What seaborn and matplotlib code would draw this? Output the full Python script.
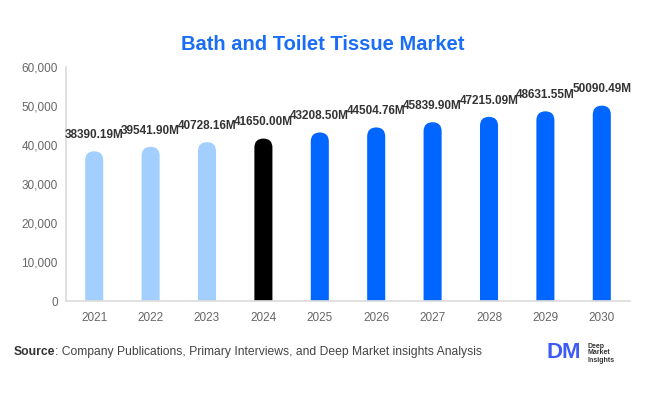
import matplotlib
matplotlib.use("Agg")
import matplotlib.pyplot as plt
import seaborn as sns
import pandas as pd
from matplotlib.patches import FancyBboxPatch
from matplotlib.ticker import FuncFormatter

years = ["2021", "2022", "2023", "2024", "2025", "2026", "2027", "2028", "2029", "2030"]
values = [38390.19, 39541.90, 40728.16, 41650.00, 43208.50, 44504.76, 45839.90, 47215.09, 48631.55, 50090.49]
labels = ["38390.19M", "39541.90M", "40728.16M", "41650.00M", "43208.50M",
          "44504.76M", "45839.90M", "47215.09M", "48631.55M", "50090.49M"]
colors = ["#A3CFFF", "#A3CFFF", "#A3CFFF", "#000000", "#0066FF",
          "#0066FF", "#0066FF", "#0066FF", "#0066FF", "#0066FF"]

sns.set_theme(style="white")
plt.rcParams["font.family"] = ["Liberation Sans", "DejaVu Sans"]

df = pd.DataFrame({"year": years, "value": values})

fig = plt.figure(figsize=(6.46, 3.94), dpi=100)
ax = fig.add_axes([66 / 646, 1 - 301 / 394, 564 / 646, 234 / 394])
sns.barplot(data=df, x="year", y="value", hue="year", palette=colors, legend=False,
            width=0.32, ax=ax, saturation=1)
ax.set_xlim(-0.5, 9.5)
ax.set_ylim(0, 60000)
ax.set_yticks(range(0, 60001, 10000))
ax.yaxis.set_major_formatter(FuncFormatter(lambda v, p: f"{int(v):,}"))

fig.canvas.draw()
px_per_x = ax.transData.transform((1, 0))[0] - ax.transData.transform((0, 0))[0]
px_per_y = (ax.transData.transform((0, 1000))[1] - ax.transData.transform((0, 0))[1]) / 1000.0

bars = list(ax.patches)
for p, c in zip(bars, colors):
    x, w, h = p.get_x(), p.get_width(), p.get_height()
    p.remove()
    r = w / 2
    ry_units = r * px_per_x / px_per_y
    aspect = ry_units / r
    fb = FancyBboxPatch((x, -ry_units * 1.5), w, h + ry_units * 1.5,
                        boxstyle=f"round,pad=0,rounding_size={r}",
                        mutation_aspect=aspect, facecolor=c, edgecolor="none")
    ax.add_patch(fb)

for i, (v, lab) in enumerate(zip(values, labels)):
    ax.annotate(lab, (i, v), xytext=(0, 9.5), textcoords="offset points",
                ha="center", va="baseline", fontsize=8.5, fontweight="bold", color="#333333")

ax.set_xlabel("")
ax.set_ylabel("")
for s in ["top", "right"]:
    ax.spines[s].set_visible(False)
ax.spines["left"].set_color("#dddddd")
ax.spines["bottom"].set_color("#dddddd")
ax.tick_params(axis="both", colors="#666666", labelsize=8.5, length=0)
ax.tick_params(axis="x", pad=8)
ax.tick_params(axis="y", pad=6)

fig.text(0.5, 1 - 45 / 394, "Bath and Toilet Tissue Market", ha="center", va="center",
         fontsize=14.5, fontweight="bold", color="#1A6EF5")

t1 = fig.text(14 / 646, 1 - 352 / 394, "Source", ha="left", va="center", fontsize=8.7,
              fontweight="bold", color="#333333")
fig.canvas.draw()
bb = t1.get_window_extent()
fig.text(bb.x1 / 646, 1 - 352 / 394,
         ": Company Publications, Primary Interviews, and Deep Market insights Analysis",
         ha="left", va="center", fontsize=8.7, color="#444444")

fig.text(564 / 646, 1 - 353 / 394, "DM", ha="center", va="center", fontsize=16,
         fontweight="bold", color="#3F5BF6")
fig.text(588 / 646, 1 - 353 / 394, "Deep\nMarket\nInsights", ha="left", va="center",
         fontsize=5, fontweight="bold", color="#333333", linespacing=1.0)

fig.savefig("out.png", dpi=100)
